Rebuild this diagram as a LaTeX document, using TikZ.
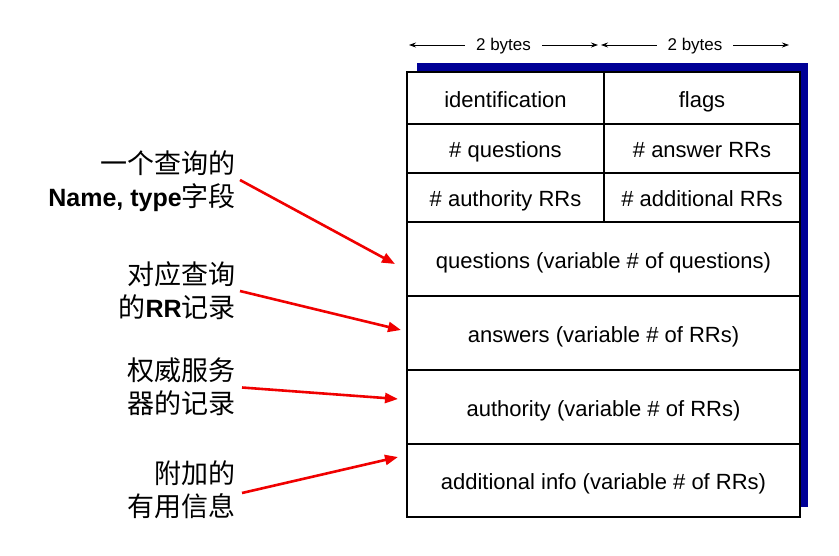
\documentclass[tikz,border=0pt]{standalone}
\usepackage{fontspec}
\setmainfont{Liberation Sans}
\newfontfamily\cjk{Noto Sans CJK SC}
\usetikzlibrary{arrows.meta}
\definecolor{shadowblue}{RGB}{0,0,150}
\definecolor{arrowred}{RGB}{240,0,0}
\begin{document}
\begin{tikzpicture}[x=1pt,y=-1pt,
  cell/.style={draw=black, line width=1.6pt, minimum width=#1, inner sep=0pt, text height=22pt, text depth=4pt, font=\fontsize{22}{26}\selectfont},
  lbl/.style={anchor=east, align=right, inner sep=0pt, font=\cjk\fontsize{27}{33}\selectfont},
  pointer/.style={draw=arrowred, line width=2.6pt, -{Triangle[length=13pt,width=10pt]}},
  bytes/.style={line width=0.8pt, {Stealth[length=7pt,width=5pt]}-{Stealth[length=7pt,width=5pt]}},
  bytelbl/.style={fill=white, inner xsep=11pt, font=\fontsize{17}{20}\selectfont}]
\useasboundingbox (0,0) rectangle (839,555);
% shadow
\fill[shadowblue] (417,63) rectangle (808,507);
% cells
\node[cell=197pt, minimum height=52pt, fill=white] (id) at (505.5,98) {identification};
\node[cell=196pt, minimum height=52pt, fill=white] (fl) at (702,98) {flags};
\node[cell=197pt, minimum height=49pt, fill=white] (nq) at (505.5,148.5) {\# questions};
\node[cell=196pt, minimum height=49pt, fill=white] (na) at (702,148.5) {\# answer RRs};
\node[cell=197pt, minimum height=49pt, fill=white] (nau) at (505.5,197.5) {\# authority RRs};
\node[cell=196pt, minimum height=49pt, fill=white] (nad) at (702,197.5) {\# additional RRs};
\node[cell=393pt, minimum height=74pt, fill=white] (qs) at (603.5,259) {questions (variable \# of questions)};
\node[cell=393pt, minimum height=74pt, fill=white] (as) at (603.5,333) {answers (variable \# of RRs)};
\node[cell=393pt, minimum height=74pt, fill=white] (au) at (603.5,407) {authority (variable \# of RRs)};
\node[cell=393pt, minimum height=73pt, fill=white] (ad) at (603.5,480.5) {additional info (variable \# of RRs)};
% byte rulers
\coordinate (b1l) at (409,45); \coordinate (b1r) at (598,45);
\coordinate (b2l) at (601,45); \coordinate (b2r) at (789,45);
\draw[bytes] (b1l) -- (b1r) node[midway, bytelbl, yshift=-1.5pt] (t1) {2 bytes};
\draw[bytes] (b2l) -- (b2r) node[midway, bytelbl, yshift=-1.5pt] (t2) {2 bytes};
% labels
\node[lbl] (l1) at (236,181) {一个查询的\\{\rmfamily\bfseries\fontsize{25}{33}\selectfont Name, type}字段};
\node[lbl] (l2) at (236,291) {对应查询\\的{\rmfamily\bfseries\fontsize{25}{33}\selectfont RR}记录};
\node[lbl] (l3) at (236,386.5) {权威服务\\器的记录};
\node[lbl] (l4) at (236,490) {附加的\\有用信息};
% arrow targets
\coordinate (a1) at (395,264);
\coordinate (a2) at (401,330);
\coordinate (a3) at (398,399);
\coordinate (a4) at (398,457);
\draw[pointer] ([xshift=4pt,yshift=1pt]l1.east) -- (a1);
\draw[pointer] ([xshift=4pt]l2.east) -- (a2);
\draw[pointer] ([xshift=6pt,yshift=-1pt]l3.east) -- (a3);
\draw[pointer] ([xshift=6pt,yshift=-3pt]l4.east) -- (a4);
\end{tikzpicture}
\end{document}
